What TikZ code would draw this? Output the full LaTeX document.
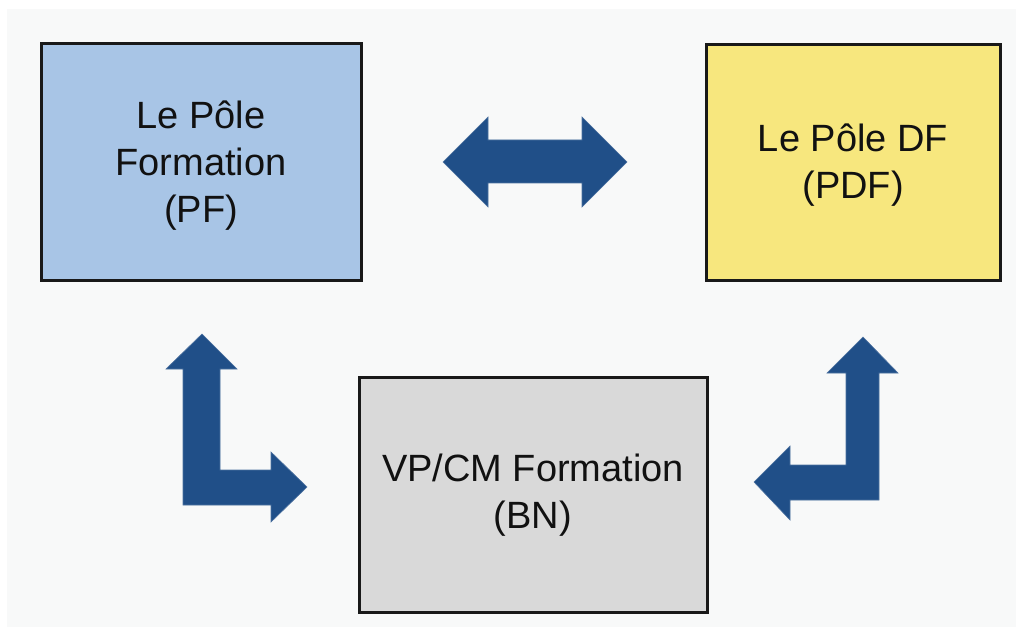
\documentclass[tikz,border=0pt]{standalone}
\usepackage{fontspec}
\setmainfont{Liberation Sans}
\definecolor{bgc}{HTML}{F8F9F9}
\definecolor{pfc}{HTML}{A8C5E6}
\definecolor{pdfc}{HTML}{F7E77E}
\definecolor{bnc}{HTML}{D9D9D9}
\definecolor{arrc}{HTML}{204F88}
\definecolor{txt}{HTML}{111111}
\begin{document}
\begin{tikzpicture}[x=1pt,y=-1pt,
  pole/.style={draw=black!90, line width=3pt, rectangle, align=center,
    text=txt, font=\fontsize{38}{47}\selectfont, inner sep=0pt},
  blockarrow/.style={fill=arrc, draw=arrc!80!white, line width=0.6pt, line join=miter}]
\useasboundingbox (0,0) rectangle (1020,639);
\fill[white] (0,0) rectangle (1020,639);
\fill[bgc] (7,9) rectangle (1016,627);
\node[pole, fill=pfc, minimum width=320pt, minimum height=236pt] (pf) at (201,162) {};
\node[text=txt, font=\fontsize{38}{47}\selectfont, align=center, inner sep=0pt]
  (pft) at ([yshift=-4pt]pf.center) {Le Pôle\\Formation\\(PF)};
\node[pole, fill=pdfc, minimum width=294pt, minimum height=235pt] (pdf) at (853,162.5) {};
\node[text=txt, font=\fontsize{38}{47}\selectfont, align=center, inner sep=0pt]
  (pdft) at ([yshift=-3pt]pdf.center) {Le Pôle DF\\(PDF)};
\node[pole, fill=bnc, minimum width=348pt, minimum height=235pt] (bn) at (533,494.5) {};
\node[text=txt, font=\fontsize{38}{47}\selectfont, align=center, inner sep=0pt]
  (bnt) at ([yshift=-1pt]bn.center) {VP/CM Formation\\(BN)};
% double arrow between PF and PDF
\fill[blockarrow] (443,162) -- (488,117) -- (488,140) -- (582,140) -- (582,117)
  -- (627,162) -- (582,207) -- (582,183) -- (488,183) -- (488,207) -- cycle;
% L-shaped arrow between PF and BN
\fill[blockarrow] (202,334) -- (237,369) -- (220,369) -- (220,470) -- (271,470)
  -- (271,452) -- (307,487) -- (271,522) -- (271,505) -- (183,505) -- (183,369)
  -- (166,369) -- cycle;
% L-shaped arrow between BN and PDF
\fill[blockarrow] (863,337) -- (898,373) -- (879,373) -- (879,500) -- (790,500)
  -- (790,520) -- (754,482) -- (790,446) -- (790,465) -- (846,465) -- (846,373)
  -- (827,373) -- cycle;
\end{tikzpicture}
\end{document}
